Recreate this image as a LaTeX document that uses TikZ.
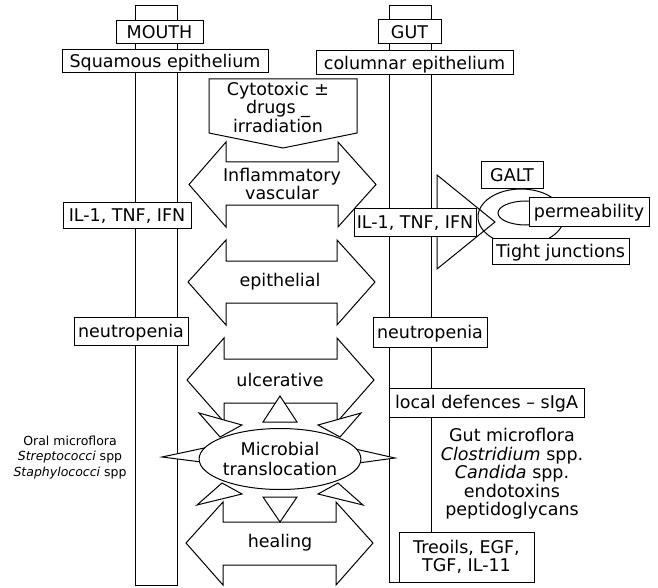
\documentclass[tikz,border=0pt]{standalone}
\usepackage{fontspec}
\setmainfont{DejaVu Sans}
\usetikzlibrary{shapes.geometric}
\newcommand{\mydblarrow}[9]{%
  \draw[fill=white] (#1,#3) -- (#2,#3) -- (#2,#5) -- (#8,#9) -- (#2,#6) -- (#2,#4)
    -- (#1,#4) -- (#1,#6) -- (#7,#9) -- (#1,#5) -- cycle;}
\begin{document}
\begin{tikzpicture}[x=1pt,y=-1pt,line width=1pt,line join=miter,
  every node/.style={font=\fontsize{17.5}{18.5}\selectfont},
  box/.style={draw,fill=white,inner sep=0pt,text height=12.8pt,text depth=0pt},
  mbox/.style={draw,fill=white,inner sep=0pt,align=center},
  lbl/.style={inner sep=0pt,align=center},
  wtri/.style={draw,fill=white}]
\useasboundingbox (0,0) rectangle (658,588);
% columns
\draw (135,6) rectangle (177,585);
\draw (389,6) rectangle (431,582);
% cytotoxic pentagon
\draw[fill=white] (209,79) -- (357,79) -- (357,133) -- (283,148) -- (209,133) -- cycle;
\node[lbl] (cyto) at (278,107) {Cytotoxic ±\\drugs \_\\irradiation};
% double arrows
\mydblarrow{226}{338}{162}{205}{142}{227}{189}{376}{184.5}
\node[lbl] (infl) at (282,184) {Inflammatory\\vascular};
\mydblarrow{226}{337}{261}{303}{240}{325}{188}{375}{282}
\node[lbl] (epi) at (280,282) {epithelial};
\mydblarrow{224}{337}{359}{403}{338}{422}{187}{374}{380}
\node[lbl] (ulc) at (280,380) {ulcerative};
\mydblarrow{223}{336}{522}{565}{502}{585}{186}{373}{543}
\node[lbl] (heal) at (280,543) {healing};
% small triangles around microbial translocation
\draw[wtri] (263,422) -- (297,422) -- (280,396) -- cycle;
\draw[wtri] (263,497) -- (297,497) -- (280,522) -- cycle;
\draw[wtri] (209,447) -- (209,463) -- (162,457) -- cycle;
\draw[wtri] (351,448) -- (351,464) -- (395,458) -- cycle;
\draw[wtri] (199,413) -- (242,425) -- (220,437) -- cycle;
\draw[wtri] (197,505) -- (242,494) -- (222,483) -- cycle;
\draw[wtri] (361,413) -- (318,425) -- (340,437) -- cycle;
\draw[wtri] (363,505) -- (318,494) -- (338,483) -- cycle;
\node[draw,fill=white,ellipse,minimum width=131pt,minimum height=61pt,inner sep=0pt,
  align=center,font=\fontsize{17.5}{19.5}\selectfont] (micro) at (280,459) {Microbial\\translocation};
% GALT region
\draw[wtri] (437,175) -- (437,269) -- (495,222) -- cycle;
\draw (521,217) ellipse [x radius=43pt,y radius=28pt];
\draw (526,213) ellipse [x radius=28pt,y radius=12pt];
% boxes
\node[box,minimum width=87pt,minimum height=23pt] (mouth) at (159.5,32.5) {MOUTH};
\node[box,minimum width=206pt,minimum height=23pt] (squam) at (165,61.5) {Squamous epithelium};
\node[box,minimum width=63pt,minimum height=24pt] (gut) at (409.5,32) {GUT};
\node[box,minimum width=197pt,minimum height=24pt] (colum) at (414.5,63) {columnar epithelium};
\node[box,minimum width=128pt,minimum height=26pt] (ilL) at (127,215) {IL-1, TNF, IFN};
\node[box,minimum width=114pt,minimum height=28pt] (neuL) at (131,331) {neutropenia};
\node[box,minimum width=122pt,minimum height=28pt] (ilR) at (415,222) {IL-1, TNF, IFN};
\node[box,minimum width=114pt,minimum height=30pt] (neuR) at (430,332) {neutropenia};
\node[box,minimum width=195pt,minimum height=29pt] (local) at (486.5,402.5) {local defences – sIgA};
\node[mbox,minimum width=135pt,minimum height=50pt] (treo) at (466.5,557) {Treoils, EGF,\\TGF, IL-11};
\node[box,minimum width=62pt,minimum height=27pt] (galt) at (512,175.5) {GALT};
\node[box,minimum width=120pt,minimum height=29pt] (perm) at (589,211.5) {permeability};
\node[box,minimum width=137pt,minimum height=26pt] (tight) at (560.5,251) {Tight junctions};
% free texts
\node[lbl,font=\fontsize{12.5}{15.5}\selectfont] (oral) at (70,457.5)
  {Oral microflora\\\textit{Streptococci} spp\\\textit{Staphylococci} spp};
\node[lbl] (gutmf) at (512,474)
  {Gut microflora\\\textit{Clostridium} spp.\\\textit{Candida} spp.\\endotoxins\\peptidoglycans};
\end{tikzpicture}
\end{document}
